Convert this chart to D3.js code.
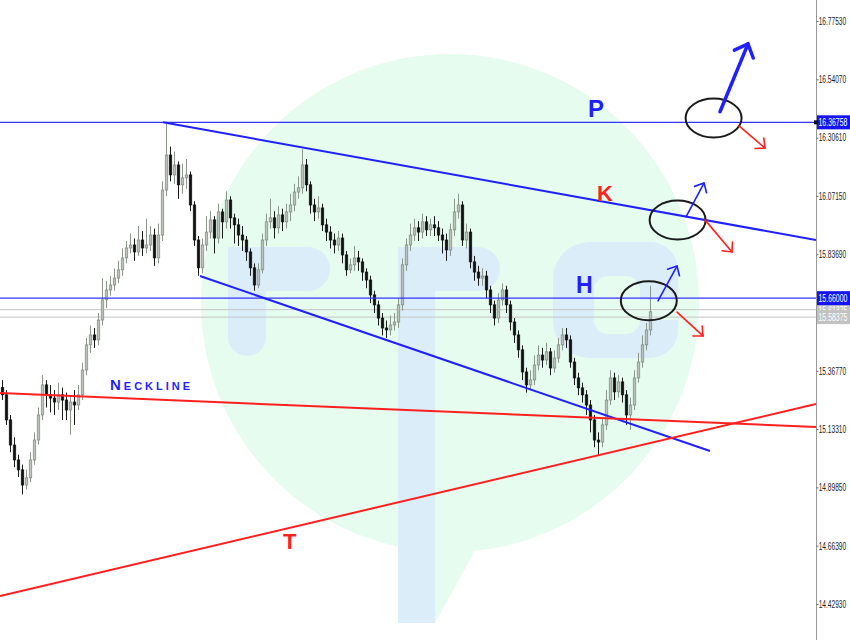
<!DOCTYPE html>
<html><head><meta charset="utf-8">
<script src="https://cdn.jsdelivr.net/npm/d3@7"></script>
<style>html,body{margin:0;padding:0;background:#fff;} svg{display:block}</style>
</head><body><svg id="chart" width="850" height="640"></svg>
<script>
// ---------- DATA ----------
const firstOpen = 15.300;
const closes = [
15.271,15.170,15.069,15.009,14.969,14.908,14.937,15.009,15.089,15.190,
15.311,15.271,15.258,15.242,15.271,15.250,15.210,15.242,15.230,15.271,
15.371,15.472,15.512,15.492,15.572,15.653,15.693,15.713,15.741,15.774,
15.822,15.862,15.874,15.846,15.894,15.862,15.874,15.914,15.822,15.914,
16.095,16.236,16.156,16.196,16.116,16.144,16.156,16.035,15.894,15.782,
15.874,15.926,15.975,15.902,16.007,15.967,16.055,15.983,15.955,15.914,
15.894,15.846,15.782,15.713,15.774,15.894,15.967,15.983,15.943,15.995,
15.967,16.007,16.035,16.087,16.104,16.196,16.116,16.035,16.007,16.023,
15.955,15.926,15.894,15.874,15.902,15.834,15.774,15.794,15.822,15.806,
15.765,15.733,15.673,15.633,15.580,15.540,15.532,15.552,15.564,15.633,
15.794,15.874,15.914,15.943,15.926,15.967,15.935,15.955,15.943,15.914,
15.894,15.854,15.935,16.007,16.035,15.894,15.926,15.806,15.765,15.741,
15.749,15.693,15.633,15.580,15.653,15.693,15.633,15.564,15.512,15.452,
15.363,15.311,15.331,15.391,15.431,15.411,15.444,15.379,15.419,15.472,
15.512,15.492,15.403,15.339,15.299,15.271,15.230,15.170,15.089,15.081,
15.150,15.250,15.339,15.283,15.323,15.271,15.190,15.230,15.339,15.403,
15.472,15.532,15.605];
const highs = [
15.33,15.29,15.19,15.10,15.03,14.99,14.97,15.04,15.12,15.22,
15.35,15.33,15.31,15.29,15.32,15.30,15.28,15.27,15.29,15.31,
15.40,15.50,15.55,15.54,15.60,15.74,15.73,15.75,15.78,15.81,
15.86,15.89,15.92,15.90,15.95,15.93,15.98,15.95,15.94,15.96,
16.13,16.37,16.27,16.25,16.21,16.20,16.22,16.17,16.05,15.91,
15.90,15.99,16.01,15.99,16.04,16.02,16.09,16.07,16.00,15.98,
15.95,15.91,15.86,15.80,15.80,15.92,16.00,16.06,16.01,16.03,
16.02,16.04,16.08,16.12,16.15,16.26,16.22,16.13,16.06,16.07,
16.04,15.98,15.95,15.92,15.93,15.92,15.85,15.82,15.87,15.85,
15.82,15.78,15.75,15.69,15.65,15.60,15.57,15.59,15.60,15.66,
15.82,15.90,15.96,15.98,15.97,16.00,15.99,15.98,15.99,15.97,
15.94,15.92,15.96,16.06,16.08,16.05,15.96,15.94,15.83,15.79,
15.78,15.77,15.71,15.65,15.68,15.72,15.71,15.65,15.58,15.53,
15.47,15.38,15.37,15.43,15.47,15.46,15.48,15.46,15.45,15.50,
15.54,15.54,15.51,15.42,15.36,15.32,15.29,15.25,15.19,15.12,
15.18,15.29,15.37,15.36,15.35,15.34,15.29,15.26,15.37,15.44,
15.51,15.56,15.71];
const lows = [
15.25,15.15,15.04,14.98,14.94,14.87,14.89,14.92,14.99,15.07,
15.17,15.22,15.20,15.19,15.21,15.17,15.17,15.11,15.15,15.21,
15.25,15.35,15.44,15.46,15.47,15.55,15.62,15.67,15.69,15.72,
15.75,15.80,15.84,15.81,15.83,15.83,15.84,15.85,15.79,15.80,
15.89,16.07,16.13,16.12,16.06,16.08,16.10,16.01,15.87,15.75,
15.76,15.85,15.90,15.84,15.88,15.90,15.94,15.94,15.88,15.87,
15.85,15.81,15.75,15.69,15.70,15.76,15.87,15.94,15.90,15.92,
15.93,15.94,15.97,16.01,16.06,16.08,16.09,16.00,15.97,15.98,
15.93,15.89,15.86,15.84,15.85,15.80,15.75,15.76,15.77,15.77,
15.73,15.70,15.64,15.60,15.55,15.51,15.50,15.51,15.53,15.54,
15.61,15.77,15.85,15.89,15.89,15.90,15.91,15.91,15.91,15.89,
15.84,15.81,15.83,15.91,15.98,15.87,15.86,15.78,15.73,15.71,
15.71,15.66,15.60,15.55,15.56,15.63,15.60,15.53,15.48,15.42,
15.33,15.28,15.29,15.31,15.37,15.38,15.39,15.35,15.36,15.40,
15.45,15.46,15.38,15.31,15.27,15.24,15.19,15.12,15.06,15.03,
15.06,15.13,15.23,15.25,15.26,15.24,15.15,15.13,15.21,15.32,
15.38,15.45,15.51];

// 15.60230 sits under the price boxes in the reference, so it is not labelled
const tickValues = [16.77530,16.54070,16.30610,16.07150,15.83690,15.36770,15.13310,14.89850,14.66390,14.42930];
const hLevels = [16.36758, 15.66000];          // blue horizontal levels (P, H)
const quoteLines = [15.61375, 15.58375];        // gray ask / bid lines
const upperChannel = [[40.25, 16.3676], [203.5, 15.894]];
const lowerChannel = [[49.5, 15.749], [177, 15.045]];
const neckline     = [[-0.5, 15.278], [203.5, 15.1415]];
const tLine        = [[-0.5, 14.4614], [203.5, 15.2341]];
const circles = [[177.9, 16.385], [168.9, 15.9745], [161.7, 15.6497]];
const arrows = [
  {from:[179.5,16.410], to:[186.5,16.683], c:'blue', big:true},
  {from:[184.25,16.353], to:[190.75,16.264], c:'red'},
  {from:[171,15.987], to:[175.5,16.123], c:'blue'},
  {from:[175.75,15.975], to:[182.5,15.846], c:'red'},
  {from:[164,15.649], to:[168.75,15.789], c:'blue'},
  {from:[168.75,15.604], to:[175.25,15.508], c:'red'}
];
const letters = [
  {t:'P', i:146.5, p:16.389, c:'blue', size:24},
  {t:'K', i:148.75, p:16.051, c:'red', size:22},
  {t:'H', i:143.5, p:15.681, c:'blue', size:23},
  {t:'T', i:70.25, p:14.651, c:'red', size:22}
];
const necklineLabel = {t:'Neckline', i:27, p:15.290};

// ---------- SETUP ----------
const W = 850, H = 640, axisX = 816;
const BLUE = '#1f1fff', RED = '#ff1f1f';
const colorOf = c => c === 'blue' ? BLUE : RED;
const svg = d3.select('#chart');
const x = d3.scaleLinear().domain([0, 203.5]).range([2, axisX]);
const y = d3.scaleLinear().domain([14.4293, 16.7753]).range([604, 21]);
const fmt = d3.format('.5f');
const AXFONT = 'Liberation Sans Narrow, Liberation Sans, Arial, sans-serif';

// squeeze a text horizontally to a target width (left-anchored at x0)
function squeeze(sel, x0, target) {
  sel.each(function () {
    const len = this.getComputedTextLength();
    const s = Math.min(1, target / len);
    d3.select(this).attr('x', x0 / s).attr('transform', `scale(${s},1)`);
  });
}

svg.append('rect').attr('width', W).attr('height', H).attr('fill', '#fff');

// ---------- WATERMARK ----------
const wm = svg.append('g');
wm.append('circle').attr('cx', 450).attr('cy', 303).attr('r', 249).attr('fill', '#e5fcef');
wm.append('path').attr('d', 'M398,530 L478,530 L472,556 L435,623 L398,623 Z').attr('fill', '#e5fcef');
const LB = '#dcedfa';
wm.append('path').attr('fill', LB).attr('d',
  'M228,247 L308,247 A22,22 0 0 1 308,291 L266,291 L266,337 A19,19 0 0 1 228,337 Z');
wm.append('path').attr('fill', LB).attr('d',
  'M398,247 L478,247 A22,22 0 0 1 478,291 L435,291 L435,623 L398,623 Z');
wm.append('path').attr('fill', LB).attr('fill-rule', 'evenodd').attr('d',
  'M590,242 L650,242 A28,28 0 0 1 678,270 L678,300 L640,300 L640,290 A14,14 0 0 0 626,276 L608,276 A14,14 0 0 0 594,290 L594,320 A14,14 0 0 0 608,334 L626,334 A14,14 0 0 0 640,320 L678,320 L678,330 A28,28 0 0 1 650,358 L590,358 A37,37 0 0 1 553,321 L553,279 A37,37 0 0 1 590,242 Z');

// ---------- CHART CONTENT ----------
const plot = svg.append('g');
svg.append('clipPath').attr('id', 'clip').append('rect').attr('x', 0).attr('y', 0).attr('width', axisX).attr('height', H);
plot.attr('clip-path', 'url(#clip)');

plot.selectAll('.q').data(quoteLines).join('line')
  .attr('x1', 0).attr('x2', axisX).attr('y1', d => y(d)).attr('y2', d => y(d))
  .attr('stroke', '#c4c4c4').attr('stroke-width', 1);

const candles = closes.map((c, i) => ({i, o: i === 0 ? firstOpen : closes[i - 1], c, h: highs[i], l: lows[i]}));
const cg = plot.append('g');
cg.selectAll('.wick').data(candles).join('line')
  .attr('x1', d => x(d.i) + 0.5).attr('x2', d => x(d.i) + 0.5)
  .attr('y1', d => y(d.h)).attr('y2', d => y(d.l))
  .attr('stroke', d => d.c >= d.o ? '#8b968b' : '#1a1a1a').attr('stroke-width', 1);
cg.selectAll('.body').data(candles).join('rect')
  .attr('x', d => x(d.i) - 0.75).attr('width', 2.5)
  .attr('y', d => y(Math.max(d.o, d.c)))
  .attr('height', d => Math.max(1, Math.abs(y(d.o) - y(d.c))))
  .attr('fill', d => d.c >= d.o ? '#bcc4bc' : '#111')
  .attr('stroke', d => d.c >= d.o ? '#7d887d' : '#111').attr('stroke-width', 0.7);

plot.selectAll('.lvl').data(hLevels).join('line')
  .attr('x1', 0).attr('x2', axisX).attr('y1', d => y(d)).attr('y2', d => y(d))
  .attr('stroke', '#3333ff').attr('stroke-width', 1.2);

const line = d3.line().x(d => x(d[0])).y(d => y(d[1]));
[[upperChannel, BLUE], [lowerChannel, BLUE], [neckline, RED], [tLine, RED]].forEach(([pts, col]) => {
  plot.append('path').attr('d', line(pts)).attr('fill', 'none').attr('stroke', col).attr('stroke-width', 2);
});

plot.selectAll('.ell').data(circles).join('ellipse')
  .attr('cx', d => x(d[0])).attr('cy', d => y(d[1])).attr('rx', 28).attr('ry', 19.5)
  .attr('fill', 'none').attr('stroke', '#1a1a1a').attr('stroke-width', 2);

arrows.forEach(a => {
  const x1 = x(a.from[0]), y1 = y(a.from[1]), x2 = x(a.to[0]), y2 = y(a.to[1]);
  const ang = Math.atan2(y2 - y1, x2 - x1);
  const hl = a.big ? 15 : 10, sw = a.big ? 3.5 : 1.6, spread = Math.PI / 4.2;
  const g = plot.append('g').attr('stroke', colorOf(a.c)).attr('stroke-width', sw).attr('fill', 'none').attr('stroke-linecap', 'round');
  g.append('line').attr('x1', x1).attr('y1', y1).attr('x2', x2).attr('y2', y2);
  const hx1 = x2 - hl * Math.cos(ang - spread), hy1 = y2 - hl * Math.sin(ang - spread);
  const hx2 = x2 - hl * Math.cos(ang + spread), hy2 = y2 - hl * Math.sin(ang + spread);
  g.append('path').attr('d', `M${hx1},${hy1} L${x2},${y2} L${hx2},${hy2}`);
});

plot.selectAll('.lt').data(letters).join('text')
  .attr('x', d => x(d.i)).attr('y', d => y(d.p))
  .attr('fill', d => colorOf(d.c))
  .attr('font-family', 'Liberation Sans, Arial, sans-serif').attr('font-weight', 'bold')
  .attr('font-size', d => d.size).text(d => d.t);

plot.append('text').attr('x', x(necklineLabel.i)).attr('y', y(necklineLabel.p))
  .attr('fill', BLUE).attr('font-family', 'Liberation Sans, Arial, sans-serif')
  .attr('font-weight', 'bold').attr('font-size', 15).style('font-variant', 'small-caps')
  .attr('textLength', 80).attr('lengthAdjust', 'spacing').text(necklineLabel.t);

// ---------- AXIS ----------
svg.append('rect').attr('x', axisX).attr('y', 0).attr('width', W - axisX).attr('height', H).attr('fill', '#fff');
svg.append('line').attr('x1', axisX + 0.5).attr('x2', axisX + 0.5).attr('y1', 0).attr('y2', H)
  .attr('stroke', '#999').attr('stroke-width', 1);
const ax = svg.append('g').attr('transform', `translate(${axisX + 0.5},0)`)
  .call(d3.axisRight(y).tickValues(tickValues).tickSize(2).tickPadding(0.5).tickFormat(fmt));
ax.select('.domain').remove();
ax.selectAll('.tick line').attr('stroke', '#666');
ax.selectAll('.tick text').attr('fill', '#222').attr('font-family', AXFONT).attr('font-size', 10.5);
squeeze(ax.selectAll('.tick text'), 2.2, 27.5);

function priceBox(p, fill) {
  const g = svg.append('g').attr('transform', `translate(${axisX + 1},${y(p)})`);
  g.append('rect').attr('x', 0).attr('y', -7).attr('width', W - axisX - 1).attr('height', 14).attr('fill', fill);
  const t = g.append('text').attr('y', 4).attr('fill', '#fff')
    .attr('font-family', AXFONT).attr('font-size', 10.5).text(fmt(p));
  squeeze(t, 1.5, 29);
}
quoteLines.forEach(p => priceBox(p, '#c2c2c2'));
hLevels.forEach(p => priceBox(p, '#1414f0'));
svg.append('rect').attr('x', axisX - 2).attr('y', y(hLevels[0]) - 2).attr('width', 4).attr('height', 4).attr('fill', '#111');
</script>
</body></html>
